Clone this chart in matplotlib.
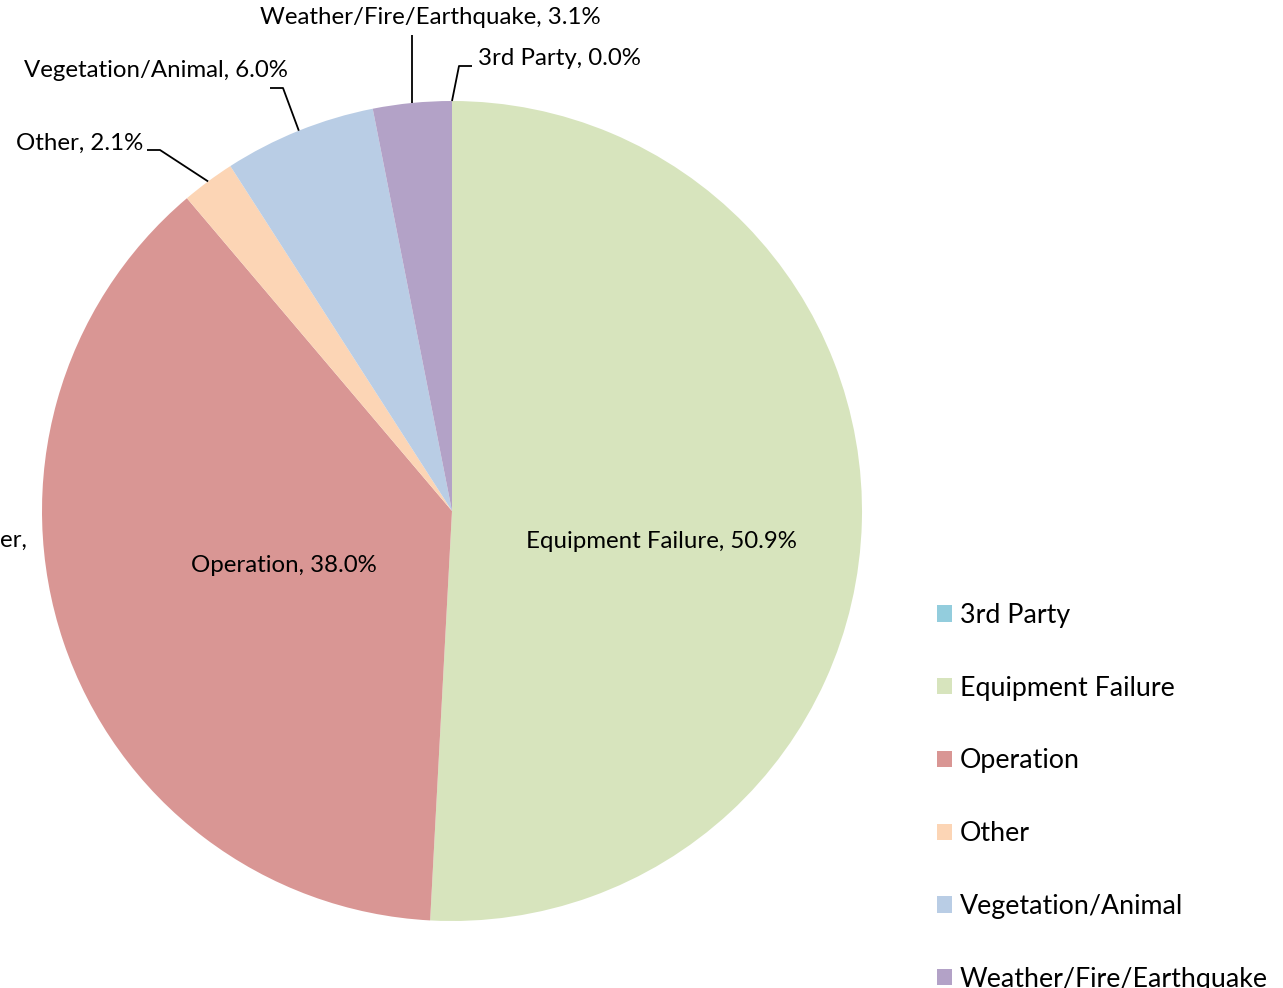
import numpy as np
import matplotlib
matplotlib.use("Agg")
import matplotlib.pyplot as plt

categories = ["3rd Party", "Equipment Failure", "Operation", "Other",
              "Vegetation/Animal", "Weather/Fire/Earthquake"]
values = [0.0, 50.9, 38.0, 2.1, 6.0, 3.1]
colors = ["#93CDDD", "#D7E4BD", "#D99694", "#FCD5B5", "#B9CDE5", "#B3A2C7"]

plt.rcParams['font.family'] = ['Lato', 'DejaVu Sans']

W, H = 1283, 988
fig = plt.figure(figsize=(W / 100, H / 100), dpi=100)
ax = fig.add_axes([0, 0, 1, 1])

cx, cy, R = 452, 988 - 511, 410
wedges, _ = ax.pie(values, colors=colors, startangle=90, counterclock=False,
                   center=(cx, cy), radius=R, frame=True,
                   wedgeprops=dict(linewidth=0))
ax.set_xlim(0, W)
ax.set_ylim(0, H)
ax.set_aspect('equal')
ax.axis('off')

fs = 17.3
labels = [f"{c}, {v:.1f}%" for c, v in zip(categories, values)]

# inside labels
ax.text(661, H - 541, labels[1], ha='center', va='center', fontsize=fs)
ax.text(284, H - 566, labels[2], ha='center', va='center', fontsize=fs)

def anchor(w):
    th = np.deg2rad((w.theta1 + w.theta2) / 2)
    return cx + R * np.cos(th), cy + R * np.sin(th)

# outer labels with leader lines
# (index, text pos, ha, elbow, end)
outer = [
    (0, (478, 59), 'left', (459, 66), (472, 66)),
    (5, (430, 18), 'center', None, (413, 35)),
    (4, (156, 71), 'center', (283, 88), (270, 88)),
    (3, (143, 143), 'right', (160, 150), (147, 150)),
]
for i, (tx, ty), ha, elbow, end in outer:
    ax.text(tx, H - ty, labels[i], ha=ha, va='center', fontsize=fs)
    ax_, ay_ = anchor(wedges[i])
    pts = [(ax_, ay_)]
    if elbow is not None:
        pts.append((elbow[0], H - elbow[1]))
        pts.append((end[0], H - end[1]))
    else:
        pts.append((ax_, H - end[1]))
    xs, ys = zip(*pts)
    ax.plot(xs, ys, color='black', lw=1.3, solid_capstyle='butt')

# cut-off label at left edge
ax.text(0, H - 540, "er,", ha='left', va='center', fontsize=fs)

leg = ax.legend(wedges, categories, loc='upper left',
                bbox_to_anchor=(937 / W, 1 - 603 / H), frameon=False,
                fontsize=19.3, handlelength=0.56, handleheight=0.56,
                handletextpad=0.3, labelspacing=1.78, borderaxespad=0,
                borderpad=0)

fig.savefig("out.png", dpi=100)
